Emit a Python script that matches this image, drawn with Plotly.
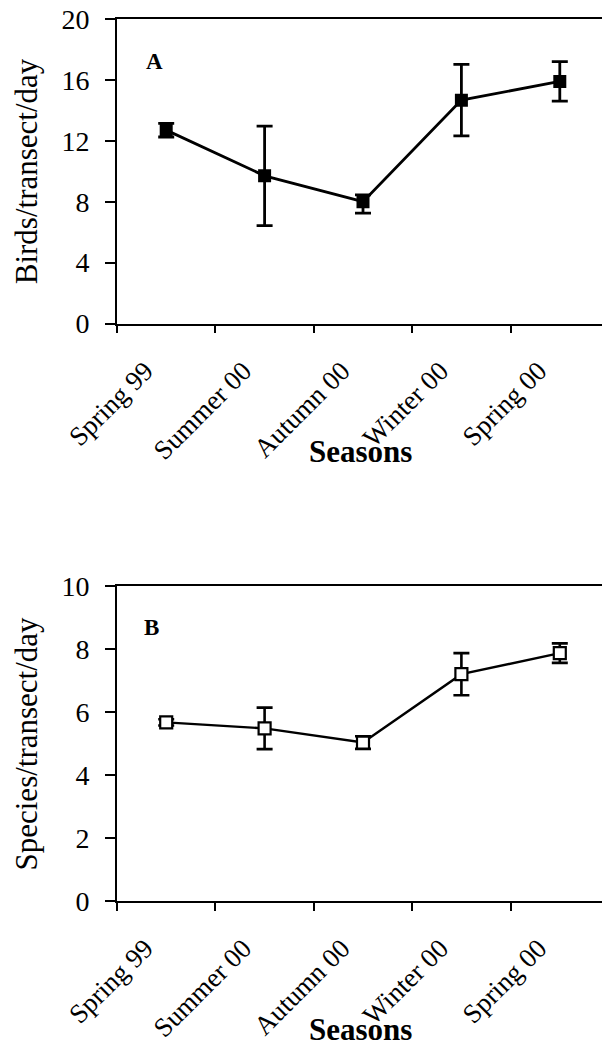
import plotly.graph_objects as go

seasons = ["Spring 99", "Summer 00", "Autumn 00", "Winter 00", "Spring 00"]

birds = [12.7, 9.7, 8.0, 14.67, 15.9]
birds_err_plus = [0.45, 3.27, 0.45, 2.35, 1.3]
birds_err_minus = [0.45, 3.27, 0.75, 2.35, 1.3]

species = [5.67, 5.48, 5.03, 7.2, 7.87]
species_err = [0.1, 0.66, 0.2, 0.67, 0.31]

y_ticks_a = [0, 4, 8, 12, 16, 20]
y_ticks_b = [0, 2, 4, 6, 8, 10]

W, H = 602, 1046
FONT = "Liberation Serif"

fig = go.Figure()

fig.add_trace(go.Scatter(
    x=seasons, y=birds, xaxis="x", yaxis="y", mode="lines+markers",
    line=dict(color="black", width=2.8),
    marker=dict(symbol="square", size=13, color="black", line=dict(color="black", width=0)),
    error_y=dict(type="data", symmetric=False, array=birds_err_plus, arrayminus=birds_err_minus,
                 visible=True, color="black", thickness=2.8, width=8),
    showlegend=False,
))

fig.add_trace(go.Scatter(
    x=seasons, y=species, xaxis="x2", yaxis="y2", mode="lines+markers",
    line=dict(color="black", width=2.4),
    marker=dict(symbol="square", size=12, color="white", line=dict(color="black", width=2.2)),
    error_y=dict(type="data", array=species_err, visible=True, color="black", thickness=2.6, width=8),
    showlegend=False,
))

left = 117
x_dom = [left / W, 1.0]
top_a, bot_a = 19, 323.5
top_b, bot_b = 586, 901
cat_px = 98.4
x_end = -0.5 + (W - left) / cat_px

xcommon = dict(
    type="category", categoryorder="array", categoryarray=seasons,
    range=[-0.5, x_end], showline=True, linecolor="black", linewidth=1.6, mirror=True,
    ticks="outside", ticklen=8, tickwidth=1.6, tickcolor="black", tickson="boundaries",
    tickangle=-45, tickfont=dict(family=FONT, size=27, color="black"),
    ticklabelstandoff=19, ticklabelshift=-21,
    showgrid=False, zeroline=False, automargin=False,
)
ycommon = dict(
    showline=True, linecolor="black", linewidth=1.6, mirror=False,
    ticks="outside", ticklen=10, tickwidth=1.6, tickcolor="black",
    tickfont=dict(family=FONT, size=28, color="black"), ticklabelstandoff=10,
    showgrid=False, zeroline=False, automargin=False,
)

fig.update_layout(
    width=W, height=H,
    margin=dict(l=0, r=0, t=0, b=0),
    paper_bgcolor="white", plot_bgcolor="white",
    xaxis=dict(domain=x_dom, anchor="y", **xcommon),
    yaxis=dict(domain=[1 - bot_a / H, 1 - top_a / H], anchor="x", range=[0, 20],
               tickvals=y_ticks_a, **ycommon),
    xaxis2=dict(domain=x_dom, anchor="y2", **xcommon),
    yaxis2=dict(domain=[1 - bot_b / H, 1 - top_b / H], anchor="x2", range=[0, 10],
                tickvals=y_ticks_b, **ycommon),
)

def px_x(p):
    return p / W

def px_y(p):
    return 1 - p / H

annots = [
    dict(text="Birds/transect/day", x=px_x(26), y=px_y((top_a + bot_a) / 2), textangle=-90,
         font=dict(family=FONT, size=31, color="black")),
    dict(text="Species/transect/day", x=px_x(26), y=px_y((top_b + bot_b) / 2), textangle=-90,
         font=dict(family=FONT, size=31, color="black")),
    dict(text="<b>Seasons</b>", x=px_x(360), y=px_y(bot_a + 128), font=dict(family=FONT, size=31, color="black")),
    dict(text="<b>Seasons</b>", x=px_x(360), y=px_y(bot_b + 128), font=dict(family=FONT, size=31, color="black")),
    dict(text="<b>A</b>", x=px_x(154), y=px_y(61), font=dict(family=FONT, size=23, color="black")),
    dict(text="<b>B</b>", x=px_x(151), y=px_y(627), font=dict(family=FONT, size=23, color="black")),
]
for a in annots:
    fig.add_annotation(xref="paper", yref="paper", showarrow=False, xanchor="center", yanchor="middle", **a)

fig.write_html("out.html", config={"displayModeBar": False},
               post_script="document.body.style.margin='0';document.body.style.overflow='hidden';")
